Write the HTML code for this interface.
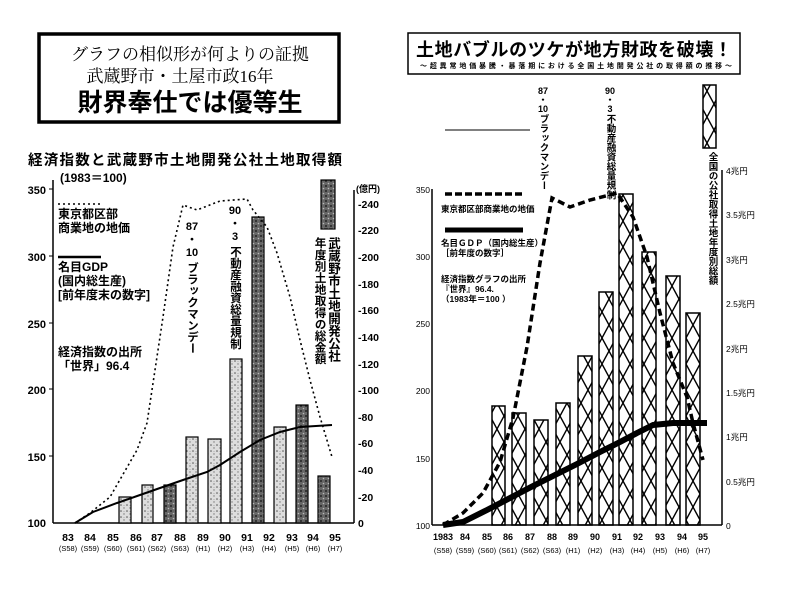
<!DOCTYPE html>
<html><head><meta charset="utf-8"><style>
html,body{margin:0;padding:0;background:#fff;}
svg{display:block;font-family:"Liberation Sans","Noto Sans CJK JP",sans-serif;}
</style></head><body>
<svg width="800" height="608" viewBox="0 0 800 608" xmlns="http://www.w3.org/2000/svg">
<defs>
<pattern id="xh" patternUnits="userSpaceOnUse" width="14" height="26">
<path d="M0,0 L14,26 M14,0 L0,26" stroke="#000" stroke-width="1.4" fill="none"/>
</pattern>
<pattern id="st" patternUnits="userSpaceOnUse" width="6" height="6">
<rect width="6" height="6" fill="#ddd"/><circle cx="1" cy="1" r="0.8" fill="#555"/><circle cx="4" cy="4" r="0.7" fill="#777"/><circle cx="4" cy="1.5" r="0.5" fill="#999"/>
</pattern>
<pattern id="sd" patternUnits="userSpaceOnUse" width="5" height="5">
<rect width="5" height="5" fill="#666"/><circle cx="1" cy="1" r="0.9" fill="#111"/><circle cx="3.5" cy="3.5" r="0.8" fill="#bbb"/>
</pattern>
</defs>

<!-- Left title box -->
<rect x="39" y="34" width="300" height="88" fill="none" stroke="#000" stroke-width="3.5"/>
<text x="190" y="60" font-size="17" text-anchor="middle" font-family="Liberation Serif,Noto Serif CJK SC,serif">グラフの相似形が何よりの証拠</text>
<text x="180" y="82" font-size="17" text-anchor="middle" font-family="Liberation Serif,Noto Serif CJK SC,serif">武蔵野市・土屋市政16年</text>
<text x="190" y="111" font-size="25" font-weight="bold" text-anchor="middle">財界奉仕では優等生</text>

<!-- Left chart -->
<text x="28" y="165" font-size="14.5" font-weight="bold" textLength="314">経済指数と武蔵野市土地開発公社土地取得額</text>
<text x="60" y="182" font-size="12" font-weight="bold">(1983＝100)</text>
<line x1="53" y1="180" x2="53" y2="523" stroke="#000" stroke-width="1.5"/>
<line x1="53" y1="523" x2="354" y2="523" stroke="#000" stroke-width="1.5"/>
<line x1="354" y1="190" x2="354" y2="523" stroke="#000" stroke-width="1.5"/>
<g font-size="11" font-weight="bold" text-anchor="end">
<text x="46" y="194">350</text><text x="46" y="261">300</text><text x="46" y="328">250</text><text x="46" y="394">200</text><text x="46" y="461">150</text><text x="46" y="527">100</text>
</g>
<g stroke="#000"><line x1="49" y1="189" x2="53" y2="189"/><line x1="49" y1="256" x2="53" y2="256"/><line x1="49" y1="323" x2="53" y2="323"/><line x1="49" y1="389" x2="53" y2="389"/><line x1="49" y1="456" x2="53" y2="456"/></g>
<g font-size="10.5" font-weight="bold">
<text x="356" y="192" font-size="9">(億円)</text>
<text x="358" y="208">-240</text><text x="358" y="234">-220</text><text x="358" y="261">-200</text><text x="358" y="288">-180</text><text x="358" y="314">-160</text><text x="358" y="341">-140</text><text x="358" y="368">-120</text><text x="358" y="394">-100</text><text x="358" y="421">-80</text><text x="358" y="447">-60</text><text x="358" y="474">-40</text><text x="358" y="501">-20</text><text x="358" y="527">0</text>
</g>
<g font-size="10.5" font-weight="bold" text-anchor="middle">
<text x="68" y="541">83</text><text x="90" y="541">84</text><text x="113" y="541">85</text><text x="136" y="541">86</text><text x="157" y="541">87</text><text x="180" y="541">88</text><text x="203" y="541">89</text><text x="225" y="541">90</text><text x="247" y="541">91</text><text x="269" y="541">92</text><text x="292" y="541">93</text><text x="313" y="541">94</text><text x="335" y="541">95</text>
</g>
<g font-size="7.5" text-anchor="middle">
<text x="68" y="551">(S58)</text><text x="90" y="551">(S59)</text><text x="113" y="551">(S60)</text><text x="136" y="551">(S61)</text><text x="157" y="551">(S62)</text><text x="180" y="551">(S63)</text><text x="203" y="551">(H1)</text><text x="225" y="551">(H2)</text><text x="247" y="551">(H3)</text><text x="269" y="551">(H4)</text><text x="292" y="551">(H5)</text><text x="313" y="551">(H6)</text><text x="335" y="551">(H7)</text>
</g>
<g stroke="#000" stroke-width="1.2">
<rect x="119" y="497" width="12" height="26" fill="url(#st)"/>
<rect x="142" y="485" width="11" height="38" fill="url(#st)"/>
<rect x="164" y="485" width="12" height="38" fill="url(#sd)"/>
<rect x="186" y="437" width="12" height="86" fill="url(#st)"/>
<rect x="208" y="439" width="13" height="84" fill="url(#st)"/>
<rect x="230" y="359" width="12" height="164" fill="url(#st)"/>
<rect x="252" y="217" width="12" height="306" fill="url(#sd)"/>
<rect x="274" y="427" width="12" height="96" fill="url(#st)"/>
<rect x="296" y="405" width="12" height="118" fill="url(#sd)"/>
<rect x="318" y="476" width="12" height="47" fill="url(#sd)"/>
<rect x="321" y="180" width="14" height="49" fill="url(#sd)"/>
</g>
<polyline fill="none" stroke="#000" stroke-width="1.6" stroke-dasharray="2,3" points="75,523 90,513 110,497 137,450 147,423 163,317 173,247 183,205 197,210 220,201 247,199 253,210 267,227 277,253 290,297 300,340 310,380 320,417 332,457"/>
<polyline fill="none" stroke="#000" stroke-width="2" points="75,523 93,512 117,503 140,495 160,488 183,480 207,472 220,465 240,452 260,440 280,432 300,427 332,425"/>
<line x1="58" y1="204" x2="103" y2="204" stroke="#000" stroke-width="1.6" stroke-dasharray="2,3"/>
<g font-size="12" font-weight="bold">
<text x="58" y="218">東京都区部</text><text x="58" y="232">商業地の地価</text>
</g>
<line x1="58" y1="257" x2="101" y2="257" stroke="#000" stroke-width="2.5"/>
<g font-size="12" font-weight="bold">
<text x="58" y="271">名目GDP</text><text x="58" y="285">(国内総生産)</text><text x="58" y="299">[前年度末の数字]</text>
<text x="58" y="356">経済指数の出所</text><text x="58" y="370">「世界」96.4</text>
</g>
<g font-size="11" font-weight="bold" text-anchor="middle">
<text x="192" y="230">87</text><text x="192" y="243">・</text><text x="192" y="256">10</text>
<text x="235" y="214">90</text><text x="235" y="227">・</text><text x="235" y="240">3</text>
</g>
<g font-weight="bold" style="writing-mode:vertical-rl">
<text x="192" y="262" font-size="11.5">ブラックマンデー</text>
<text x="235" y="246" font-size="11.5">不動産融資総量規制</text>
<text x="333" y="237" font-size="12.5">武蔵野市土地開発公社</text>
<text x="320" y="237" font-size="11.6">年度別土地取得の総金額</text>
</g>

<!-- Right chart -->
<rect x="408" y="33" width="332" height="41" fill="none" stroke="#000" stroke-width="1.5"/>
<text x="416" y="56" font-size="18" font-weight="bold" textLength="316">土地バブルのツケが地方財政を破壊！</text>
<text x="420" y="68" font-size="7" font-weight="bold" textLength="312">～超異常地価暴騰・暴落期における全国土地開発公社の取得額の推移～</text>
<line x1="432" y1="189" x2="432" y2="525" stroke="#000" stroke-width="1.5"/>
<line x1="432" y1="525" x2="722" y2="525" stroke="#000" stroke-width="1.5"/>
<line x1="722" y1="170" x2="722" y2="525" stroke="#000" stroke-width="1.5"/>
<g font-size="8.5" text-anchor="end">
<text x="430" y="193">350</text><text x="430" y="260">300</text><text x="430" y="327">250</text><text x="430" y="394">200</text><text x="430" y="462">150</text><text x="430" y="529">100</text>
</g>
<g font-size="8.5">
<text x="726" y="174">4兆円</text><text x="726" y="218">3.5兆円</text><text x="726" y="263">3兆円</text><text x="726" y="307">2.5兆円</text><text x="726" y="352">2兆円</text><text x="726" y="396">1.5兆円</text><text x="726" y="440">1兆円</text><text x="726" y="485">0.5兆円</text><text x="726" y="529">0</text>
</g>
<g font-size="9" font-weight="bold" text-anchor="middle">
<text x="443" y="540">1983</text><text x="465" y="540">84</text><text x="487" y="540">85</text><text x="508" y="540">86</text><text x="530" y="540">87</text><text x="552" y="540">88</text><text x="573" y="540">89</text><text x="595" y="540">90</text><text x="617" y="540">91</text><text x="638" y="540">92</text><text x="660" y="540">93</text><text x="682" y="540">94</text><text x="703" y="540">95</text>
</g>
<g font-size="7.5" text-anchor="middle">
<text x="443" y="553">(S58)</text><text x="465" y="553">(S59)</text><text x="487" y="553">(S60)</text><text x="508" y="553">(S61)</text><text x="530" y="553">(S62)</text><text x="552" y="553">(S63)</text><text x="573" y="553">(H1)</text><text x="595" y="553">(H2)</text><text x="617" y="553">(H3)</text><text x="638" y="553">(H4)</text><text x="660" y="553">(H5)</text><text x="682" y="553">(H6)</text><text x="703" y="553">(H7)</text>
</g>
<g stroke="#000" stroke-width="1.5" fill="url(#xh)">
<rect x="492" y="406" width="13" height="119"/>
<rect x="512" y="413" width="14" height="112"/>
<rect x="534" y="420" width="14" height="105"/>
<rect x="556" y="403" width="14" height="122"/>
<rect x="578" y="356" width="14" height="169"/>
<rect x="599" y="292" width="14" height="233"/>
<rect x="619" y="194" width="14" height="331"/>
<rect x="642" y="252" width="14" height="273"/>
<rect x="666" y="276" width="14" height="249"/>
<rect x="686" y="313" width="14" height="212"/>
<rect x="703" y="85" width="13" height="63"/>
</g>
<polyline fill="none" stroke="#000" stroke-width="3.5" stroke-dasharray="7,4" points="443,525 463,513 483,493 500,462 513,418 527,347 540,263 552,198 570,207 590,200 617,193 633,217 647,257 660,313 673,363 687,397 693,423 703,460"/>
<polyline fill="none" stroke="#000" stroke-width="6" stroke-linejoin="round" points="443,525 463,522 487,510 510,498 533,486 553,476 577,464 600,452 620,442 637,433 653,425 673,423 707,423"/>
<line x1="445" y1="130" x2="530" y2="130" stroke="#000" stroke-width="1"/>
<line x1="445" y1="194" x2="522" y2="194" stroke="#000" stroke-width="3.5" stroke-dasharray="7,3"/>
<line x1="445" y1="230" x2="523" y2="230" stroke="#000" stroke-width="5"/>
<g font-size="8.5" font-weight="bold">
<text x="441" y="212">東京都区部商業地の地価</text>
<text x="441" y="246">名目ＧＤＰ（国内総生産）</text>
<text x="441" y="256">［前年度の数字］</text>
<text x="441" y="282">経済指数グラフの出所</text>
<text x="441" y="292">『世界』96.4.</text>
<text x="441" y="302">（1983年＝100 ）</text>
</g>
<g font-size="9" font-weight="bold" text-anchor="middle">
<text x="543" y="94">87</text><text x="543" y="103">・</text><text x="543" y="112">10</text>
<text x="610" y="94">90</text><text x="610" y="103">・</text><text x="610" y="112">3</text>
</g>
<g font-size="9.5" font-weight="bold" style="writing-mode:vertical-rl">
<text x="543" y="114">ブラックマンデー</text>
<text x="610" y="114">不動産融資総量規制</text>
<text x="712" y="152">全国の公社取得土地年度別総額</text>
</g>
</svg>
</body></html>
